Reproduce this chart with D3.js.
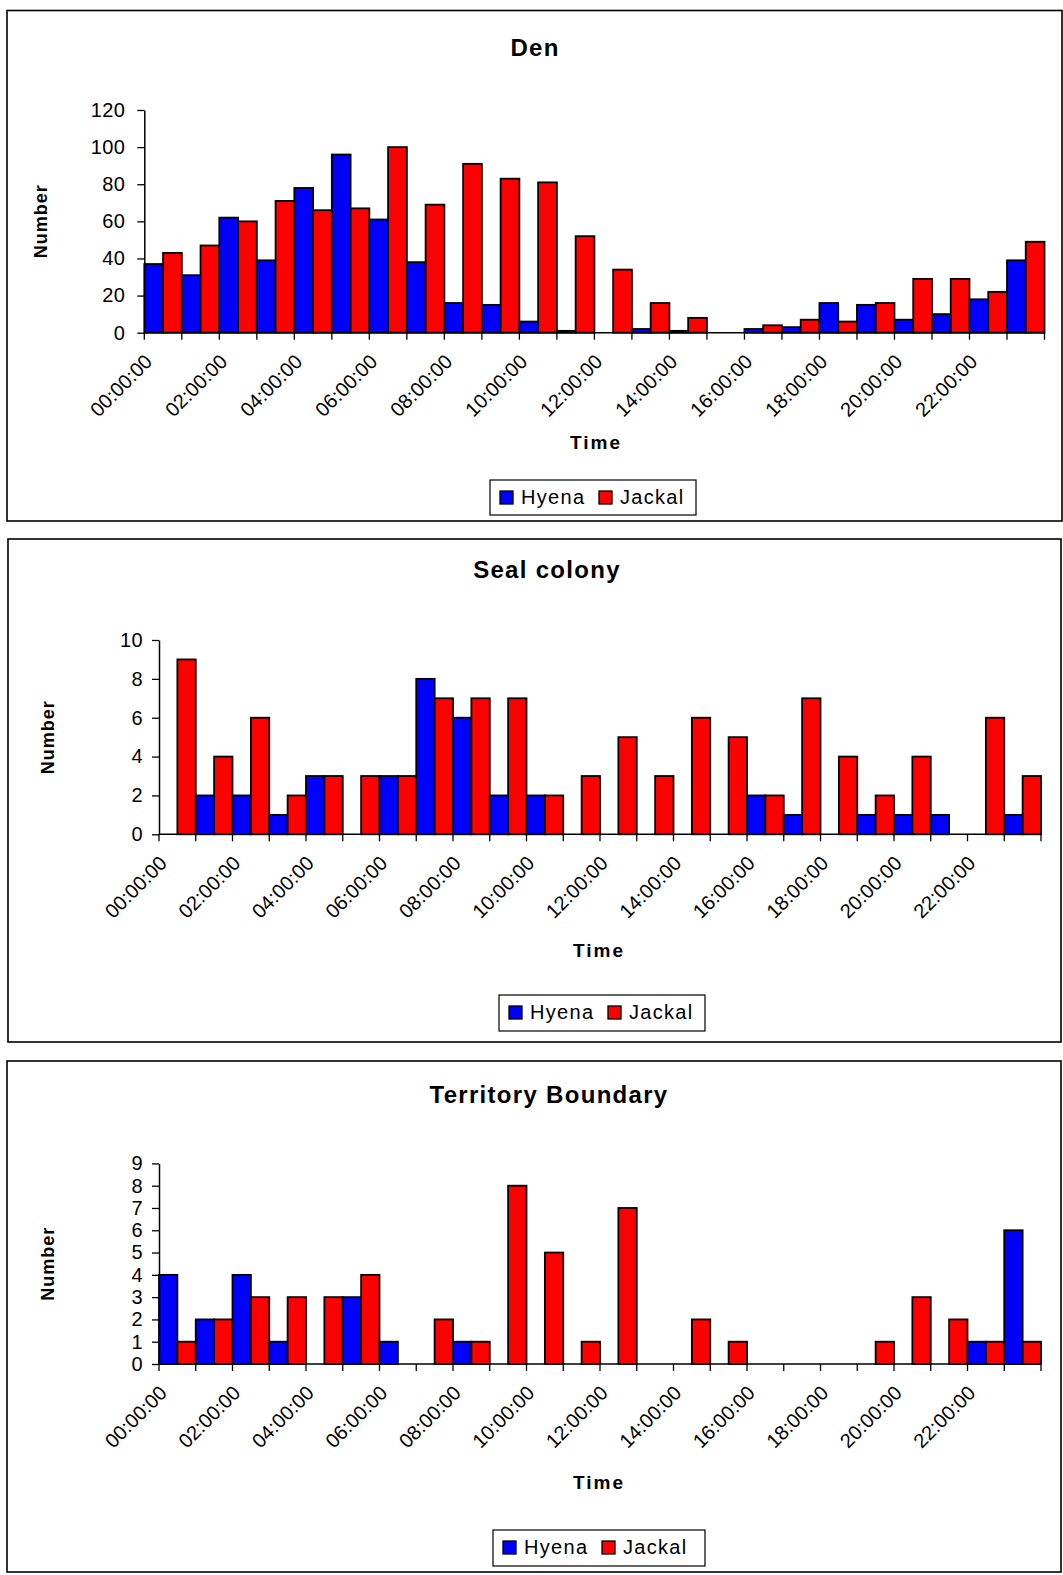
<!DOCTYPE html>
<html>
<head>
<meta charset="utf-8">
<script src="https://cdn.jsdelivr.net/npm/d3@7"></script>
<style>
  html, body { margin: 0; padding: 0; background: #fff; }
  svg { display: block; }
  text { font-family: "Liberation Sans", Arial, sans-serif; fill: #000; }
</style>
</head>
<body>
<svg id="chart" width="1063" height="1575"></svg>
<script>
// ---------- DATA ----------
const hours = ["00:00:00","01:00:00","02:00:00","03:00:00","04:00:00","05:00:00",
               "06:00:00","07:00:00","08:00:00","09:00:00","10:00:00","11:00:00",
               "12:00:00","13:00:00","14:00:00","15:00:00","16:00:00","17:00:00",
               "18:00:00","19:00:00","20:00:00","21:00:00","22:00:00","23:00:00"];
const seriesNames = ["Hyena", "Jackal"];

const denHyena  = [37,31,62,39,78,96,61,38,16,15,6,1,0,2,1,0,2,3,16,15,7,10,18,39];
const denJackal = [43,47,60,71,66,67,100,69,91,83,81,52,34,16,8,0,4,7,6,16,29,29,22,49];
const denTicks  = [0,20,40,60,80,100,120];

const sealHyena  = [0,2,2,1,3,0,3,8,6,2,2,0,0,0,0,0,2,1,0,1,1,1,0,1];
const sealJackal = [9,4,6,2,3,3,3,7,7,7,2,3,5,3,6,5,2,7,4,2,4,0,6,3];
const sealTicks  = [0,2,4,6,8,10];

const territoryHyena  = [4,2,4,1,0,3,1,0,1,0,0,0,0,0,0,0,0,0,0,0,0,0,1,6];
const territoryJackal = [1,2,3,3,3,4,0,2,1,8,5,1,7,0,2,1,0,0,0,1,3,2,1,1];
const territoryTicks  = [0,1,2,3,4,5,6,7,8,9];

// ---------- LAYOUT ----------
const colors = { Hyena: "#0000FF", Jackal: "#FF0000" };
const FONT = '"Liberation Sans", Arial, sans-serif';

const charts = [
  { title: "Den", hy: denHyena, ja: denJackal, ticks: denTicks,
    box: [7, 10.5, 1062, 521], x0: 144.3, x1: 1044.5, yBase: 332.7, yTop: 110,
    titleX: 535, titleY: 56, numX: 47, timeX: 596, timeY: 449,
    legend: [490, 480, 206, 35], tickPad: 12 },
  { title: "Seal colony", hy: sealHyena, ja: sealJackal, ticks: sealTicks,
    box: [8, 539, 1061, 1042], x0: 159, x1: 1041, yBase: 834.3, yTop: 640,
    titleX: 547, titleY: 578, numX: 54, timeX: 599, timeY: 957,
    legend: [499, 995, 206, 36], tickPad: 9 },
  { title: "Territory Boundary", hy: territoryHyena, ja: territoryJackal, ticks: territoryTicks,
    box: [7, 1061, 1061, 1572], x0: 159, x1: 1041, yBase: 1364, yTop: 1163.4,
    titleX: 549, titleY: 1103, numX: 54, timeX: 599, timeY: 1489,
    legend: [493, 1530, 212, 36], tickPad: 9 }
];

const svg = d3.select("#chart");

charts.forEach(c => {
  const g = svg.append("g");

  // outer frame
  g.append("rect")
    .attr("x", c.box[0]).attr("y", c.box[1])
    .attr("width", c.box[2] - c.box[0]).attr("height", c.box[3] - c.box[1])
    .attr("fill", "#fff").attr("stroke", "#000").attr("stroke-width", 1.6);

  const x = d3.scaleBand().domain(hours).range([c.x0, c.x1]).padding(0);
  const xs = d3.scaleBand().domain(seriesNames).range([0, x.bandwidth()]).padding(0);
  const yMax = c.ticks[c.ticks.length - 1];
  const y = d3.scaleLinear().domain([0, yMax]).range([c.yBase, c.yTop]);

  // bars
  const rows = hours.map((h, i) => ({ h, vals: [
    { s: "Hyena", v: c.hy[i] }, { s: "Jackal", v: c.ja[i] } ] }));
  const cat = g.append("g").selectAll("g").data(rows).join("g")
    .attr("transform", d => `translate(${x(d.h)},0)`);
  cat.selectAll("rect").data(d => d.vals.filter(e => e.v > 0)).join("rect")
    .attr("x", d => xs(d.s))
    .attr("width", xs.bandwidth())
    .attr("y", d => y(d.v))
    .attr("height", d => y(0) - y(d.v))
    .attr("fill", d => colors[d.s])
    .attr("stroke", "#000").attr("stroke-width", 1.8);

  // y axis
  const yAxis = d3.axisLeft(y).tickValues(c.ticks).tickSizeInner(7).tickSizeOuter(0)
    .tickPadding(c.tickPad).tickFormat(d3.format("d"));
  const ya = g.append("g").attr("transform", `translate(${c.x0},0)`).call(yAxis);
  ya.select(".domain").attr("stroke", "#000").attr("stroke-width", 1.5);
  ya.selectAll(".tick line").attr("stroke", "#000").attr("stroke-width", 1.3);
  ya.selectAll(".tick text").attr("font-family", FONT).attr("font-size", 20)
    .attr("letter-spacing", 0.4).attr("fill", "#000");

  // x axis line
  g.append("line").attr("x1", c.x0).attr("x2", c.x1)
    .attr("y1", y(0)).attr("y2", y(0)).attr("stroke", "#000").attr("stroke-width", 1.5);
  // x ticks at category boundaries
  const bounds = hours.map(h => x(h)).concat([x.range()[1]]);
  g.append("g").selectAll("line").data(bounds).join("line")
    .attr("x1", d => d).attr("x2", d => d)
    .attr("y1", y(0)).attr("y2", y(0) + 7)
    .attr("stroke", "#000").attr("stroke-width", 1.3);
  // rotated labels every 2 hours
  g.append("g").selectAll("text").data(hours.filter((h, i) => i % 2 === 0)).join("text")
    .attr("transform", d => `translate(${x(d) - 1},${y(0) + 20}) rotate(-45)`)
    .attr("text-anchor", "end").attr("dy", "0.72em")
    .attr("font-size", 20).attr("font-family", FONT)
    .text(d => d);

  // title
  g.append("text").attr("x", c.titleX).attr("y", c.titleY)
    .attr("text-anchor", "middle").attr("font-weight", "bold")
    .attr("font-size", 24).attr("letter-spacing", 1.3).text(c.title);

  // y axis title
  g.append("text")
    .attr("transform", `translate(${c.numX},${(c.yBase + c.yTop) / 2}) rotate(-90)`)
    .attr("text-anchor", "middle").attr("font-weight", "bold")
    .attr("font-size", 18).attr("letter-spacing", 1).text("Number");

  // x axis title
  g.append("text").attr("x", c.timeX).attr("y", c.timeY)
    .attr("text-anchor", "middle").attr("font-weight", "bold")
    .attr("font-size", 19).attr("letter-spacing", 2).text("Time");

  // legend
  const [lx, ly, lw, lh] = c.legend;
  const lg = g.append("g").attr("transform", `translate(${lx},${ly})`);
  lg.append("rect").attr("width", lw).attr("height", lh)
    .attr("fill", "#fff").attr("stroke", "#000").attr("stroke-width", 1.2);
  const items = lg.selectAll("g").data(seriesNames).join("g")
    .attr("transform", (d, i) => `translate(${i === 0 ? 10 : 109},0)`);
  items.append("rect").attr("x", 0).attr("y", 11).attr("width", 13).attr("height", 13)
    .attr("fill", d => colors[d]).attr("stroke", "#000").attr("stroke-width", 1.3);
  items.append("text").attr("x", 21).attr("y", 23.5)
    .attr("font-size", 20).attr("letter-spacing", 1.3).text(d => d);
});
</script>
</body>
</html>
